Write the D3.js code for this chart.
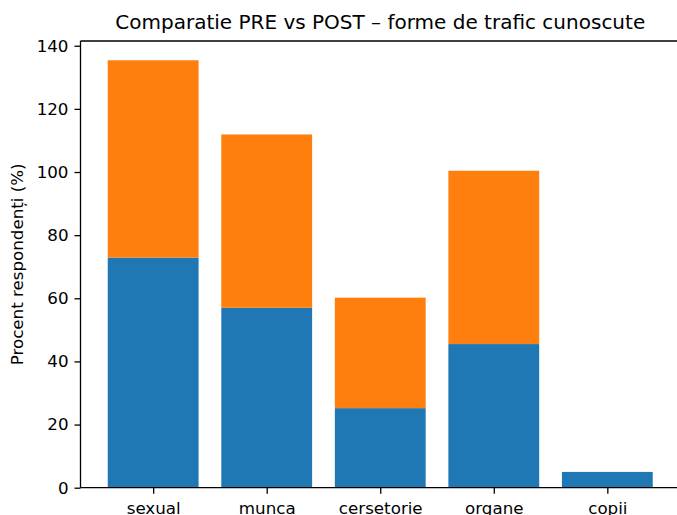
<!DOCTYPE html>
<html>
<head>
<meta charset="utf-8">
<script src="https://cdn.jsdelivr.net/npm/d3@7"></script>
<style>
  html, body { margin: 0; padding: 0; background: #fff; }
  svg { display: block; }
  text { font-family: "DejaVu Sans", sans-serif; fill: #000; }
</style>
</head>
<body>
<svg id="chart" width="677" height="515"></svg>
<script>
const categories = ["sexual", "munca", "cersetorie", "organe", "copii"];
const preValues = [72.9, 57.0, 25.2, 45.5, 5.0];
const postValues = [62.5, 54.9, 35.0, 54.9, 0];
const yTicks = [0, 20, 40, 60, 80, 100, 120, 140];
const title = "Comparatie PRE vs POST – forme de trafic cunoscute";
const yLabel = "Procent respondenți (%)";

const svg = d3.select("#chart");
const mLeft = 80.5, mRight = 680, mTop = 41, mBottom = 487.7;

const x = d3.scaleLinear().domain([-0.64, categories.length - 1 + 0.64]).range([mLeft, mRight]);
const y = d3.scaleLinear().domain([0, 141.5]).range([mBottom, mTop]);
const bw = x(0.8) - x(0);

const rows = categories.map((c, i) => ({ c, i, pre: preValues[i], post: postValues[i] }));

const g = svg.append("g");
g.selectAll("rect.pre").data(rows).enter().append("rect")
  .attr("class", "pre")
  .attr("x", d => x(d.i) - bw / 2)
  .attr("width", bw)
  .attr("y", d => y(d.pre))
  .attr("height", d => y(0) - y(d.pre))
  .attr("fill", "#1f77b4");
g.selectAll("rect.post").data(rows.filter(d => d.post > 0)).enter().append("rect")
  .attr("class", "post")
  .attr("x", d => x(d.i) - bw / 2)
  .attr("width", bw)
  .attr("y", d => y(d.pre + d.post))
  .attr("height", d => y(d.pre) - y(d.pre + d.post))
  .attr("fill", "#ff7f0e");

const fs = 16.7;
const yAxis = d3.axisLeft(y).tickValues(yTicks).tickSize(6).tickPadding(6).tickFormat(d3.format("d"));
const ya = svg.append("g").attr("transform", `translate(${mLeft},0)`).call(yAxis);
ya.select(".domain").remove();
ya.selectAll(".tick line").attr("stroke", "#000").attr("stroke-width", 1.3);
ya.selectAll(".tick text").attr("font-size", fs).attr("font-family", "DejaVu Sans").attr("fill", "#000");

const xAxis = d3.axisBottom(x).tickValues(categories.map((c, i) => i)).tickSize(6).tickPadding(8)
  .tickFormat(i => categories[i]);
const xa = svg.append("g").attr("transform", `translate(0,${mBottom})`).call(xAxis);
xa.select(".domain").remove();
xa.selectAll(".tick line").attr("stroke", "#000").attr("stroke-width", 1.3);
xa.selectAll(".tick text").attr("font-size", fs).attr("font-family", "DejaVu Sans").attr("fill", "#000");

const sp = svg.append("g").attr("fill", "none").attr("stroke", "#000").attr("stroke-width", 1.3);
sp.append("line").attr("x1", mLeft).attr("x2", mLeft).attr("y1", mTop).attr("y2", mBottom);
sp.append("line").attr("x1", mLeft).attr("x2", mRight).attr("y1", mBottom).attr("y2", mBottom);
sp.append("line").attr("x1", mLeft).attr("x2", mRight).attr("y1", mTop).attr("y2", mTop);
sp.append("line").attr("x1", mRight).attr("x2", mRight).attr("y1", mTop).attr("y2", mBottom);

svg.append("text")
  .attr("x", (mLeft + mRight) / 2)
  .attr("y", mTop - 12)
  .attr("text-anchor", "middle")
  .attr("font-size", 20)
  .text(title);

svg.append("text")
  .attr("transform", `translate(23,${(mTop + mBottom) / 2}) rotate(-90)`)
  .attr("text-anchor", "middle")
  .attr("font-size", fs)
  .text(yLabel);
</script>
</body>
</html>
